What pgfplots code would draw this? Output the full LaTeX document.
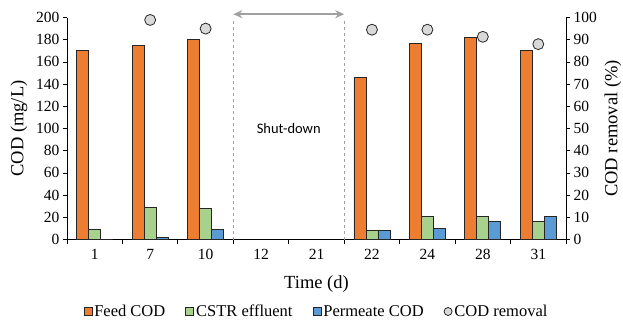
\documentclass[border=0pt]{standalone}
\usepackage{fontspec}
\setmainfont{Liberation Serif}
\newfontfamily\calibri{Carlito}
\usepackage{pgfplots}
\pgfplotsset{compat=1.18}
\usetikzlibrary{arrows.meta}
\definecolor{cOrange}{HTML}{ED7D31}
\definecolor{cGreen}{HTML}{A9D18E}
\definecolor{cBlue}{HTML}{5B9BD5}
\definecolor{cGrayFill}{HTML}{D9D9D9}
\definecolor{cEdge}{HTML}{262626}
\definecolor{cArrow}{HTML}{A0A0A0}
\begin{document}
\begin{tikzpicture}
\begin{axis}[
  scale only axis, width=499pt, height=222pt,
  xmin=-0.5, xmax=8.5, ymin=0, ymax=200,
  axis x line*=bottom, axis y line*=left,
  xtick={0,...,8},
  xticklabels={1,7,10,12,21,22,24,28,31},
  major x tick style={draw=none},
  minor xtick={-0.5,0.5,1.5,2.5,3.5,4.5,5.5,6.5,7.5,8.5},
  ytick={0,20,...,200},
  tick align=outside, major tick length=4pt, minor tick length=4pt,
  tick style={black, line width=0.8pt},
  axis line style={black, line width=0.8pt},
  /pgf/number format/assume math mode=true,
  tick label style={font=\fontsize{15.5}{18}\selectfont},
  xticklabel style={yshift=-2pt},
  xlabel={Time (d)}, ylabel={COD (mg/L)},
  label style={font=\fontsize{18.5}{22}\selectfont},
  xlabel style={at={(axis description cs:0.5,0)}, anchor=center, yshift=-45pt},
  ylabel style={at={(axis description cs:-0.0962,0.5)}, anchor=center},
  ybar=0pt, bar width=12pt,
  clip=false,
]
\addplot[fill=cOrange, draw=cEdge, line width=0.8pt] coordinates {(0,170) (1,175) (2,180) (5,146) (6,177) (7,182) (8,170)};
\addplot[fill=cGreen, draw=cEdge, line width=0.8pt] coordinates {(0,8.7) (1,28.5) (2,28) (5,8) (6,21) (7,21) (8,16)};
\addplot[fill=cBlue, draw=cEdge, line width=0.8pt] coordinates {(0,0) (1,2) (2,9) (5,8) (6,10) (7,16.5) (8,20.5)};
\draw[cArrow, dashed, line width=0.6pt] (axis cs:2.5,0) -- (axis cs:2.5,199);
\draw[cArrow, dashed, line width=0.6pt] (axis cs:4.5,0) -- (axis cs:4.5,199);
\draw[cArrow, line width=1.6pt, {Stealth[length=9pt,width=8pt]}-{Stealth[length=9pt,width=8pt]}] (axis cs:2.5,203) -- (axis cs:4.5,203);
\node[font=\calibri\fontsize{14.5}{17}\selectfont] at (axis cs:3.5,100) {Shut-down};
\end{axis}
\begin{axis}[
  scale only axis, width=499pt, height=222pt,
  xmin=-0.5, xmax=8.5, ymin=0, ymax=100,
  axis x line=none, axis y line*=right,
  ytick={0,10,...,100},
  tick align=outside, major tick length=4pt,
  tick style={black, line width=0.8pt},
  axis line style={black, line width=0.8pt},
  /pgf/number format/assume math mode=true,
  tick label style={font=\fontsize{15.5}{18}\selectfont},
  ylabel={COD removal (\%)},
  label style={font=\fontsize{18.5}{22}\selectfont},
  ylabel style={at={(axis description cs:1.0942,0.5)}, anchor=center},
  legend columns=4,
  legend style={draw=none, font=\fontsize{16.5}{19}\selectfont, at={(axis description cs:0.5,0)}, anchor=center, yshift=-72pt,
    /tikz/every even column/.append style={column sep=18pt}, inner sep=0pt,
    nodes={inner xsep=2pt}},
  clip=false,
]
\addlegendimage{legend image code/.code={\draw[fill=cOrange, draw=cEdge, line width=0.8pt] (0pt,-4pt) rectangle (8pt,4pt);}}
\addlegendentry{Feed COD}
\addlegendimage{legend image code/.code={\draw[fill=cGreen, draw=cEdge, line width=0.8pt] (0pt,-4pt) rectangle (8pt,4pt);}}
\addlegendentry{CSTR effluent}
\addlegendimage{legend image code/.code={\draw[fill=cBlue, draw=cEdge, line width=0.8pt] (0pt,-4pt) rectangle (8pt,4pt);}}
\addlegendentry{Permeate COD}
\addplot[only marks, mark=*, mark size=5.5pt, mark options={fill=cGrayFill, draw=cEdge, line width=0.8pt},
  legend image code/.code={\draw[fill=cGrayFill, draw=cEdge, line width=0.8pt] (4pt,0pt) circle (4pt);}]
  coordinates {(1,98.9) (2,95) (5,94.5) (6,94.5) (7,91.3) (8,88)};
\addlegendentry{COD removal}
\end{axis}
\pgfresetboundingbox
\path[use as bounding box] (-67pt,-85pt) rectangle (556pt,239.5pt);
\end{tikzpicture}
\end{document}
